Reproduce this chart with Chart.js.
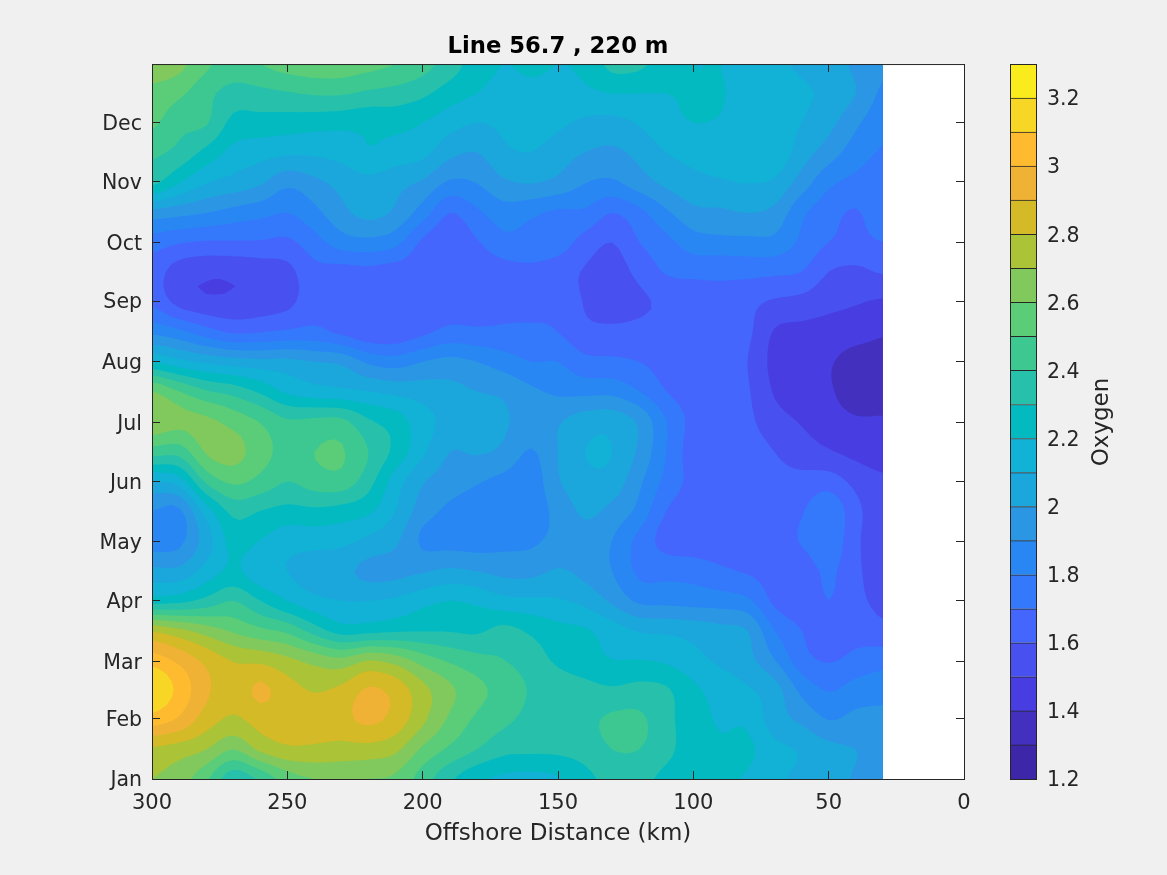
<!DOCTYPE html>
<html>
<head>
<meta charset="utf-8">
<title>Line 56.7 , 220 m</title>
<script src="https://cdn.jsdelivr.net/npm/chart.js"></script>
<style>
  html, body { margin: 0; padding: 0; background: #f0f0f0; }
  #wrap { position: relative; width: 1167px; height: 875px; overflow: hidden; }
  canvas { position: absolute; top: 0; }
  #field { left: 0; }
  #bar { left: 990px; }
</style>
</head>
<body>
<div id="wrap">
  <canvas id="field" width="1167" height="875"></canvas>
  <canvas id="bar" width="177" height="875"></canvas>
</div>
<script>
const monthNames = ['Jan', 'Feb', 'Mar', 'Apr', 'May', 'Jun', 'Jul', 'Aug', 'Sep', 'Oct', 'Nov', 'Dec'];
const monthDays = [0, 31, 60, 91, 121, 152, 182, 213, 244, 274, 305, 335];
const distanceTicks = [0, 50, 100, 150, 200, 250, 300];
const oxygenTicks = [1.2, 1.4, 1.6, 1.8, 2, 2.2, 2.4, 2.6, 2.8, 3, 3.2];

// contour levels, each one is the lower edge of a colour band
const levels = [1.2, 1.3, 1.4, 1.5, 1.6, 1.7, 1.8, 1.9, 2, 2.1, 2.2, 2.3, 2.4, 2.5, 2.6, 2.7, 2.8, 2.9, 3, 3.1, 3.2];
const levelColors = ['#3e26a8', '#4330be', '#473de0', '#4850f0', '#4566fd', '#3478fb', '#2987f4', '#2b97e4',
  '#1ca7dc', '#12b1d6', '#04bac1', '#27c1ab', '#3dc891', '#5bcd78', '#81c95c', '#aac337', '#d4ba27', '#f0b235',
  '#febb2f', '#f8d626', '#f9eb1c'];

const km = [300, 290, 280, 270, 260, 250, 240, 230, 220, 210, 200, 190, 180, 170, 160, 150, 140, 130, 120, 110, 100, 90, 80, 70, 60, 50, 40, 30];
const days = [0, 15, 30, 46, 61, 76, 91, 106, 122, 137, 152, 167, 183, 198, 213, 228, 244, 259, 274, 289, 304, 320, 335, 350, 365];

const d000 = [2.70, 2.65, 2.52, 2.33, 2.42, 2.55, 2.60, 2.62, 2.60, 2.58, 2.45, 2.32, 2.22, 2.18, 2.17, 2.19, 2.27, 2.33, 2.33, 2.27, 2.22, 2.21, 2.19, 2.12, 2.08, 2.04, 1.99, 1.95];
const d015 = [2.78, 2.75, 2.70, 2.60, 2.72, 2.78, 2.78, 2.76, 2.76, 2.72, 2.58, 2.48, 2.40, 2.33, 2.32, 2.32, 2.34, 2.40, 2.40, 2.33, 2.24, 2.21, 2.22, 2.13, 2.09, 2.03, 2.00, 1.97];
const d030 = [3.05, 2.98, 2.85, 2.78, 2.84, 2.85, 2.84, 2.87, 2.92, 2.86, 2.72, 2.58, 2.48, 2.42, 2.37, 2.33, 2.37, 2.42, 2.42, 2.33, 2.24, 2.19, 2.18, 2.05, 1.98, 1.90, 1.93, 1.93];
const d046 = [3.20, 3.07, 2.92, 2.84, 2.92, 2.84, 2.79, 2.82, 2.91, 2.86, 2.73, 2.62, 2.53, 2.46, 2.39, 2.35, 2.33, 2.31, 2.33, 2.31, 2.22, 2.16, 2.11, 2.04, 1.87, 1.79, 1.84, 1.86];
const d061 = [3.05, 2.97, 2.87, 2.79, 2.77, 2.72, 2.66, 2.62, 2.69, 2.65, 2.55, 2.48, 2.43, 2.40, 2.35, 2.28, 2.24, 2.20, 2.20, 2.18, 2.13, 2.08, 2.03, 1.90, 1.74, 1.69, 1.73, 1.76];
const d076 = [2.78, 2.72, 2.65, 2.58, 2.52, 2.47, 2.35, 2.25, 2.26, 2.28, 2.29, 2.29, 2.28, 2.33, 2.28, 2.23, 2.21, 2.15, 2.09, 2.08, 2.06, 2.03, 2.00, 1.80, 1.70, 1.64, 1.66, 1.63];
const d091 = [2.25, 2.27, 2.33, 2.40, 2.30, 2.20, 2.13, 2.10, 2.10, 2.12, 2.17, 2.20, 2.18, 2.13, 2.12, 2.11, 2.07, 1.98, 1.88, 1.87, 1.86, 1.85, 1.82, 1.68, 1.64, 1.70, 1.63, 1.57];
const d106 = [2.03, 2.03, 2.14, 2.22, 2.13, 2.10, 2.05, 2.03, 1.97, 1.97, 1.99, 2.02, 2.00, 1.97, 1.97, 2.01, 1.97, 1.90, 1.78, 1.77, 1.76, 1.72, 1.69, 1.66, 1.64, 1.72, 1.62, 1.55];
const d122 = [1.85, 1.87, 2.05, 2.24, 2.20, 2.14, 2.14, 2.13, 2.08, 2.02, 1.88, 1.86, 1.85, 1.87, 1.88, 1.93, 1.96, 1.90, 1.77, 1.66, 1.64, 1.64, 1.64, 1.65, 1.71, 1.78, 1.62, 1.54];
const d137 = [1.90, 1.88, 2.15, 2.33, 2.30, 2.27, 2.28, 2.26, 2.22, 2.10, 1.95, 1.88, 1.85, 1.84, 1.85, 1.93, 2.02, 1.97, 1.87, 1.70, 1.65, 1.63, 1.63, 1.63, 1.69, 1.78, 1.63, 1.53];
const d152 = [2.10, 2.15, 2.42, 2.52, 2.47, 2.40, 2.45, 2.46, 2.34, 2.15, 2.01, 1.95, 1.91, 1.87, 1.84, 1.99, 2.07, 2.06, 1.92, 1.77, 1.67, 1.64, 1.63, 1.62, 1.63, 1.65, 1.57, 1.52];
const d167 = [2.45, 2.44, 2.61, 2.64, 2.54, 2.47, 2.50, 2.51, 2.40, 2.27, 2.12, 2.00, 2.01, 1.98, 1.89, 2.00, 2.10, 2.10, 1.98, 1.80, 1.65, 1.64, 1.64, 1.60, 1.55, 1.51, 1.47, 1.44];
const d183 = [2.68, 2.63, 2.62, 2.56, 2.49, 2.41, 2.42, 2.42, 2.31, 2.25, 2.14, 2.07, 2.05, 2.01, 1.97, 1.99, 2.05, 2.06, 1.98, 1.80, 1.67, 1.64, 1.62, 1.54, 1.49, 1.44, 1.41, 1.41];
const d198 = [2.60, 2.50, 2.41, 2.36, 2.28, 2.18, 2.14, 2.12, 2.10, 2.07, 2.05, 2.03, 2.00, 1.98, 1.92, 1.88, 1.87, 1.87, 1.80, 1.70, 1.65, 1.63, 1.61, 1.49, 1.44, 1.41, 1.36, 1.35];
const d213 = [2.20, 2.13, 2.08, 2.05, 2.03, 2.03, 2.00, 1.98, 1.88, 1.85, 1.90, 1.93, 1.90, 1.85, 1.80, 1.80, 1.73, 1.72, 1.70, 1.66, 1.64, 1.63, 1.60, 1.47, 1.44, 1.41, 1.36, 1.36];
const d228 = [1.88, 1.83, 1.75, 1.69, 1.70, 1.72, 1.73, 1.68, 1.63, 1.63, 1.68, 1.73, 1.72, 1.72, 1.72, 1.70, 1.63, 1.63, 1.63, 1.63, 1.63, 1.63, 1.62, 1.49, 1.47, 1.46, 1.44, 1.41];
const d244 = [1.68, 1.56, 1.52, 1.52, 1.54, 1.57, 1.66, 1.63, 1.63, 1.63, 1.63, 1.64, 1.65, 1.67, 1.67, 1.68, 1.59, 1.53, 1.58, 1.62, 1.63, 1.68, 1.63, 1.59, 1.57, 1.53, 1.51, 1.49];
const d259 = [1.65, 1.55, 1.52, 1.52, 1.54, 1.57, 1.67, 1.66, 1.67, 1.65, 1.64, 1.62, 1.63, 1.66, 1.68, 1.65, 1.59, 1.55, 1.63, 1.71, 1.73, 1.72, 1.73, 1.72, 1.70, 1.60, 1.58, 1.61];
const d274 = [1.75, 1.71, 1.69, 1.69, 1.69, 1.68, 1.76, 1.85, 1.87, 1.83, 1.68, 1.62, 1.69, 1.77, 1.76, 1.75, 1.66, 1.60, 1.70, 1.77, 1.85, 1.87, 1.87, 1.87, 1.78, 1.70, 1.67, 1.70];
const d289 = [1.96, 1.93, 1.90, 1.86, 1.83, 1.80, 1.87, 1.97, 2.03, 1.98, 1.85, 1.70, 1.78, 1.85, 1.82, 1.78, 1.78, 1.70, 1.77, 1.88, 1.97, 1.98, 2.00, 1.97, 1.82, 1.74, 1.69, 1.77];
const d304 = [2.32, 2.20, 2.10, 2.06, 2.01, 1.92, 1.97, 2.03, 2.07, 2.03, 1.98, 1.88, 1.90, 1.98, 2.00, 1.97, 1.90, 1.88, 1.95, 2.02, 2.07, 2.09, 2.10, 2.08, 1.95, 1.82, 1.77, 1.75];
const d320 = [2.42, 2.37, 2.27, 2.17, 2.14, 2.12, 2.12, 2.14, 2.19, 2.16, 2.13, 2.03, 2.00, 2.08, 2.10, 2.05, 2.00, 1.98, 2.03, 2.10, 2.13, 2.13, 2.13, 2.17, 2.05, 1.95, 1.85, 1.79];
const d335 = [2.52, 2.43, 2.41, 2.27, 2.26, 2.25, 2.24, 2.23, 2.22, 2.23, 2.20, 2.14, 2.10, 2.12, 2.14, 2.12, 2.08, 2.07, 2.11, 2.17, 2.20, 2.19, 2.15, 2.13, 2.10, 2.03, 1.92, 1.83];
const d350 = [2.57, 2.52, 2.43, 2.36, 2.37, 2.39, 2.41, 2.41, 2.38, 2.36, 2.32, 2.25, 2.20, 2.16, 2.17, 2.17, 2.18, 2.20, 2.20, 2.20, 2.21, 2.21, 2.14, 2.12, 2.11, 2.08, 2.00, 1.88];
const d365 = [2.66, 2.63, 2.52, 2.46, 2.50, 2.54, 2.56, 2.56, 2.53, 2.50, 2.44, 2.35, 2.25, 2.20, 2.22, 2.20, 2.22, 2.33, 2.32, 2.25, 2.20, 2.20, 2.14, 2.11, 2.09, 2.05, 1.98, 1.92];

const oxygen = [d000, d015, d030, d046, d061, d076, d091, d106, d122, d137, d152, d167, d183, d198, d213, d228, d244, d259, d274, d289, d304, d320, d335, d350, d365];

const ink = '#262626';
Chart.defaults.font.family = '"DejaVu Sans", sans-serif';
Chart.defaults.color = ink;

// rounder contour lines: only the drawing goes through this, the arrays above stay as read
const SUBDIV = 4;
function cubic(a, b, c, d, t) {
  return b + 0.5 * t * (c - a + t * (2 * a - 5 * b + 4 * c - d + t * (3 * (b - c) + d - a)));
}
function smoothValue(r, c, tr, tc) {
  const clampR = n => Math.max(0, Math.min(days.length - 1, n));
  const clampC = n => Math.max(0, Math.min(km.length - 1, n));
  const rowAt = n => {
    const row = oxygen[clampR(n)];
    return cubic(row[clampC(c - 1)], row[clampC(c)], row[clampC(c + 1)], row[clampC(c + 2)], tc);
  };
  return cubic(rowAt(r - 1), rowAt(r), rowAt(r + 1), rowAt(r + 2), tr);
}
function buildFineGrid() {
  const nodes = [];
  for (let r = 0; r < days.length - 1; r++) {
    for (let sr = 0; sr < SUBDIV + (r === days.length - 2 ? 1 : 0); sr++) {
      const line = [];
      const tr = sr / SUBDIV;
      for (let c = 0; c < km.length - 1; c++) {
        for (let sc = 0; sc < SUBDIV + (c === km.length - 2 ? 1 : 0); sc++) {
          const tc = sc / SUBDIV;
          line.push({
            km: km[c] + (km[c + 1] - km[c]) * tc,
            day: days[r] + (days[r + 1] - days[r]) * tr,
            v: smoothValue(r, c, tr, tc)
          });
        }
      }
      nodes.push(line);
    }
  }
  return nodes;
}

// keep the part of a grid cell where the value is at or above the level
function clipCell(corners, level) {
  const out = [];
  for (let i = 0; i < corners.length; i++) {
    const a = corners[i];
    const b = corners[(i + 1) % corners.length];
    if (a.v >= level) out.push(a);
    if ((a.v >= level) !== (b.v >= level)) {
      const t = (level - a.v) / (b.v - a.v);
      out.push({ x: a.x + (b.x - a.x) * t, y: a.y + (b.y - a.y) * t, v: level });
    }
  }
  return out;
}

const contourPlugin = {
  id: 'contour',
  beforeDatasetsDraw(chart) {
    const { ctx, chartArea, scales } = chart;
    const fine = buildFineGrid().map(line => line.map(n => ({
      x: scales.x.getPixelForValue(n.km),
      y: scales.y.getPixelForValue(n.day),
      v: n.v
    })));
    ctx.save();
    ctx.fillStyle = '#ffffff';
    ctx.fillRect(chartArea.left, chartArea.top, chartArea.width, chartArea.height);
    levels.forEach((level, n) => {
      ctx.beginPath();
      // the lowest level has to cover the whole field
      const floor = n === 0 ? -Infinity : level;
      for (let j = 0; j < fine.length - 1; j++) {
        for (let i = 0; i < fine[j].length - 1; i++) {
          const cell = [fine[j][i], fine[j][i + 1], fine[j + 1][i + 1], fine[j + 1][i]];
          const poly = clipCell(cell, floor);
          if (poly.length < 3) continue;
          ctx.moveTo(poly[0].x, poly[0].y);
          poly.slice(1).forEach(p => ctx.lineTo(p.x, p.y));
          ctx.closePath();
        }
      }
      ctx.fillStyle = levelColors[n];
      ctx.fill();
    });
    ctx.restore();
  },
  afterDraw(chart) {
    const { ctx, chartArea } = chart;
    ctx.save();
    ctx.strokeStyle = ink;
    ctx.lineWidth = 1;
    ctx.strokeRect(chartArea.left + 0.5, chartArea.top + 0.5, chartArea.width, chartArea.height);
    ctx.restore();
  }
};

const innerTicks = { color: ink, lineWidth: 1, drawOnChartArea: false, tickLength: -8, tickColor: ink, z: 1 };

new Chart(document.getElementById('field'), {
  type: 'scatter',
  data: { datasets: [{ label: 'Oxygen', pointRadius: 0, data: km.map((x, i) => ({ x, y: days[0], v: oxygen[0][i] })) }] },
  plugins: [contourPlugin],
  options: {
    responsive: false,
    animation: false,
    layout: { padding: { right: 203 } },
    plugins: {
      legend: { display: false },
      tooltip: { enabled: false },
      title: {
        display: true,
        text: 'Line 56.7 , 220 m',
        fullSize: false,
        color: '#000000',
        font: { size: 22.7, weight: 'bold' },
        padding: { top: 33, bottom: 3.8 }
      }
    },
    scales: {
      x: {
        type: 'linear', position: 'bottom', reverse: true, min: 0, max: 300,
        afterBuildTicks: s => { s.ticks = distanceTicks.map(value => ({ value })); },
        afterFit: s => { s.height = 96; },
        grid: innerTicks,
        border: { display: false },
        ticks: { font: { size: 21 }, padding: 20, maxRotation: 0, autoSkip: false },
        title: { display: true, text: 'Offshore Distance (km)', font: { size: 23 }, padding: { top: 0, bottom: 27 } }
      },
      y: {
        type: 'linear', position: 'left', min: 0, max: 365,
        afterBuildTicks: s => { s.ticks = monthDays.map(value => ({ value })); },
        afterFit: s => { s.width = 152; },
        grid: innerTicks,
        border: { display: false },
        ticks: { font: { size: 20.5 }, padding: 18, labelOffset: 2, autoSkip: false, callback: v => monthNames[monthDays.indexOf(v)] }
      },
      xTop: {
        type: 'linear', position: 'top', reverse: true, min: 0, max: 300,
        afterBuildTicks: s => { s.ticks = distanceTicks.map(value => ({ value })); },
        afterFit: s => { s.height = 0; },
        grid: innerTicks,
        border: { display: false },
        ticks: { display: false }
      },
      yRight: {
        type: 'linear', position: 'right', min: 0, max: 365,
        afterBuildTicks: s => { s.ticks = monthDays.map(value => ({ value })); },
        afterFit: s => { s.width = 0; },
        grid: innerTicks,
        border: { display: false },
        ticks: { display: false }
      }
    }
  }
});

const barFrame = {
  id: 'barFrame',
  afterDraw(chart) {
    const { ctx, chartArea } = chart;
    ctx.save();
    ctx.strokeStyle = ink;
    ctx.lineWidth = 1;
    ctx.strokeRect(chartArea.left + 0.5, chartArea.top + 0.5, chartArea.width - 1, chartArea.height);
    ctx.translate(112, 422);
    ctx.rotate(-Math.PI / 2);
    ctx.fillStyle = ink;
    ctx.font = '23px "DejaVu Sans", sans-serif';
    ctx.textAlign = 'center';
    ctx.textBaseline = 'middle';
    ctx.fillText('Oxygen', 0, 0);
    ctx.restore();
  }
};

new Chart(document.getElementById('bar'), {
  type: 'bar',
  data: {
    labels: ['Oxygen'],
    datasets: levels.map((level, n) => ({
      data: [[level, level + 0.1]],
      backgroundColor: levelColors[n],
      borderColor: ink,
      borderWidth: { top: 1, left: 0, right: 0, bottom: 0 },
      borderSkipped: false,
      grouped: false,
      barPercentage: 1,
      categoryPercentage: 1
    }))
  },
  plugins: [barFrame],
  options: {
    responsive: false,
    animation: false,
    layout: { padding: { left: 20, top: 64, bottom: 96 } },
    plugins: { legend: { display: false }, tooltip: { enabled: false } },
    scales: {
      x: { display: false },
      y: {
        type: 'linear', position: 'right', min: 1.2, max: 3.3,
        afterBuildTicks: s => { s.ticks = oxygenTicks.map(value => ({ value })); },
        afterFit: s => { s.width = 130; },
        grid: { display: false },
        border: { display: false },
        ticks: { font: { size: 20.5 }, padding: 2, labelOffset: 2, autoSkip: false, callback: v => String(v) }
      }
    }
  }
});
</script>
</body>
</html>
